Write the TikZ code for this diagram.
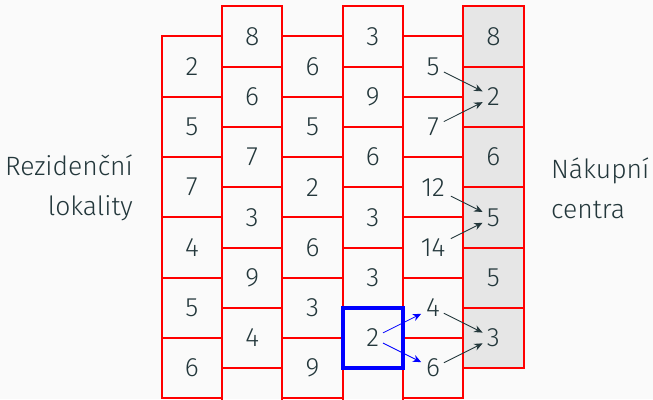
\documentclass[tikz,border=0pt]{standalone}
\usepackage{fontspec}
\setmainfont{Fira Sans}[UprightFont={* Light}]
\usetikzlibrary{positioning,arrows.meta}
\definecolor{slate}{HTML}{23373B}
\definecolor{slide}{HTML}{FAFAFA}
\definecolor{shop}{HTML}{E6E6E6}

\begin{document}
\begin{tikzpicture}[
  font=\fontsize{12.5}{18.8}\selectfont,
  text=slate,
  node distance=0pt,
  cell/.style={rectangle,draw=red,line width=0.95pt,minimum size=1cm,
               inner sep=0pt,outer sep=0pt},
  shopcell/.style={cell,fill=shop},
  side/.style={inner sep=0pt},
  pick/.style={draw=blue,line width=1.9pt},
  arr/.style={-{Stealth[length=4pt,width=3.4pt]},slate,
              shorten <=2mm,shorten >=2mm},
  wide/.style={shorten <=3.3mm},
  barr/.style={arr,blue,shorten <=1.9mm,shorten >=2.2mm},
]
\useasboundingbox (0,0) rectangle (10.829,-6.617);
\fill[slide] (0,0) rectangle (10.829,-6.617);
\clip (0,0) rectangle (10.829,-6.617);

% residential columns
\node[cell] (a1) at (3.182,-1.105) {2};
\node[cell,below=of a1] (a2) {5};
\node[cell,below=of a2] (a3) {7};
\node[cell,below=of a3] (a4) {4};
\node[cell,below=of a4] (a5) {5};
\node[cell,below=of a5] (a6) {6};

\node[cell] (b1) at (4.182,-0.6045) {8};
\node[cell,below=of b1] (b2) {6};
\node[cell,below=of b2] (b3) {7};
\node[cell,below=of b3] (b4) {3};
\node[cell,below=of b4] (b5) {9};
\node[cell,below=of b5] (b6) {4};
\node[cell,below=of b6] (b7) {};

\node[cell] (c1) at (5.182,-1.105) {6};
\node[cell,below=of c1] (c2) {5};
\node[cell,below=of c2] (c3) {2};
\node[cell,below=of c3] (c4) {6};
\node[cell,below=of c4] (c5) {3};
\node[cell,below=of c5] (c6) {9};

\node[cell] (d1) at (6.182,-0.6045) {3};
\node[cell,below=of d1] (d2) {9};
\node[cell,below=of d2] (d3) {6};
\node[cell,below=of d3] (d4) {3};
\node[cell,below=of d4] (d5) {3};
\node[cell,below=of d5] (d6) {2};
\node[cell,below=of d6] (d7) {};

\node[cell] (e1) at (7.182,-1.105) {5};
\node[cell,below=of e1] (e2) {7};
\node[cell,below=of e2] (e3) {12};
\node[cell,below=of e3] (e4) {14};
\node[cell,below=of e4] (e5) {4};
\node[cell,below=of e5] (e6) {6};

% shopping centres
\node[shopcell] (f1) at (8.182,-0.6045) {8};
\node[shopcell,below=of f1] (f2) {2};
\node[shopcell,below=of f2] (f3) {6};
\node[shopcell,below=of f3] (f4) {5};
\node[shopcell,below=of f4] (f5) {5};
\node[shopcell,below=of f5] (f6) {3};

\draw[pick] (d6.north west) rectangle (d6.south east);

\draw[barr] (d6.center) -- (e5.center);
\draw[barr] (d6.center) -- (e6.center);
\draw[arr] (e1.center) -- (f2.center);
\draw[arr] (e2.center) -- (f2.center);
\draw[arr,wide] (e3.center) -- (f4.center);
\draw[arr,wide] (e4.center) -- (f4.center);
\draw[arr] (e5.center) -- (f6.center);
\draw[arr] (e6.center) -- (f6.center);

\node[side,anchor=east,align=right] (rez) at (2.21,-3.12) {Rezidenční\\lokality};
\node[side,anchor=west,align=left] (nak) at (9.133,-3.12) {Nákupní\\centra};
\end{tikzpicture}
\end{document}
